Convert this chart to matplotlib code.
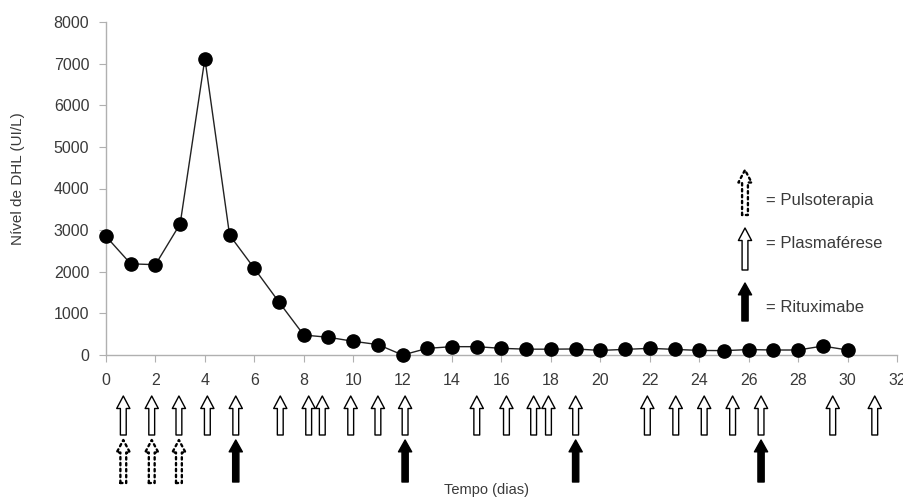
import matplotlib
matplotlib.use("Agg")
import matplotlib.pyplot as plt

plt.rcParams['font.family'] = ['Liberation Sans', 'DejaVu Sans']

# DHL level per day
days = list(range(0, 31))
dhl = [2850, 2190, 2170, 3150, 7120, 2880, 2080, 1270, 480, 425,
       330, 250, 0, 160, 200, 200, 160, 140, 140, 145,
       110, 135, 160, 135, 110, 105, 130, 120, 120, 215, 120]

# treatment days (arrows under the axis)
plasmaferese = [0.7, 1.85, 2.95, 4.1, 5.25, 7.05, 8.2, 8.75, 9.9, 11.0, 12.1,
                15.0, 16.2, 17.3, 17.9, 19.0, 21.9, 23.05, 24.2, 25.35, 26.5,
                29.4, 31.1]
pulsoterapia = [0.7, 1.85, 2.95]
rituximabe = [5.25, 12.1, 19.0, 26.5]

xticks = list(range(0, 33, 2))
yticks = list(range(0, 8001, 1000))

txt = '#3a3a3a'
grey = '#b0b0b0'

fig = plt.figure(figsize=(9.04, 4.99), dpi=100)
fig.subplots_adjust(left=106 / 904, right=897 / 904, top=1 - 22 / 499, bottom=1 - 355 / 499)
ax = fig.add_subplot(111)

ax.plot(days, dhl, color='#222222', lw=1.0, marker='o', ms=9.5, mfc='black', mec='black', zorder=3,
        clip_on=False)

ax.set_xlim(0, 32)
ax.set_ylim(0, 8000)
ax.set_xticks(xticks)
ax.set_yticks(yticks)
for s in ['top', 'right']:
    ax.spines[s].set_visible(False)
for s in ['left', 'bottom']:
    ax.spines[s].set_color(grey)
    ax.spines[s].set_linewidth(1.0)
ax.tick_params(axis='both', colors=grey, length=5, labelcolor=txt, labelsize=11.5)
ax.tick_params(axis='x', pad=8)
ax.tick_params(axis='y', pad=7)

ax.set_ylabel('Nível de DHL (UI/L)', color=txt, fontsize=11)
ax.yaxis.set_label_coords(-0.103, 0.53)
fig.text(487, 499 - 490, 'Tempo (dias)', transform=None, fontsize=10.5, color=txt,
         ha='center', va='center')

open_style = 'simple,head_width=9.5,head_length=9,tail_width=4.2'
solid_style = 'simple,head_width=9.5,head_length=8.5,tail_width=4.5'


def arrow(x, y0, y1, coords, style, fc, ls='-'):
    ax.annotate('', xy=(x, y1), xytext=(x, y0), xycoords=coords, textcoords=coords,
                annotation_clip=False,
                arrowprops=dict(arrowstyle=style, mutation_scale=1, fc=fc, ec='black',
                                lw=1.0 if ls == '-' else 1.7, ls=ls,
                                shrinkA=0, shrinkB=0))


xc = ('data', 'figure pixels')
for x in plasmaferese:
    arrow(x, 499 - 435, 499 - 396, xc, open_style, 'white')
for x in pulsoterapia:
    arrow(x, 499 - 483, 499 - 440, xc, open_style, 'none', ls=(0, (1, 1.5)))
for x in rituximabe:
    arrow(x, 499 - 482, 499 - 440, xc, solid_style, 'black')

# legend drawn by hand on the right
fc_ = 'figure pixels'
arrow(745, 499 - 215, 499 - 170, fc_, open_style, 'none', ls=(0, (1, 1.5)))
arrow(745, 499 - 270, 499 - 228, fc_, open_style, 'white')
arrow(745, 499 - 321, 499 - 283, fc_, solid_style, 'black')
fig.text(766, 499 - 200, '= Pulsoterapia', transform=None, fontsize=12, color=txt, va='center')
fig.text(766, 499 - 243, '= Plasmaférese', transform=None, fontsize=12, color=txt, va='center')
fig.text(766, 499 - 307, '= Rituximabe', transform=None, fontsize=12, color=txt, va='center')

fig.savefig('out.png', dpi=100)
